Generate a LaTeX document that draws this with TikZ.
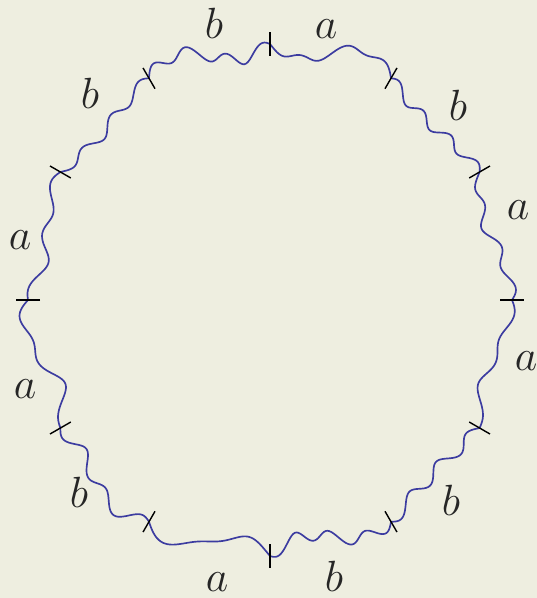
\documentclass[tikz,border=0pt]{standalone}
\usetikzlibrary{positioning}
\definecolor{paper}{RGB}{238,238,224}
\definecolor{wire}{RGB}{60,60,160}
\definecolor{ink}{RGB}{38,38,38}
\tikzset{
  wavy/.style={draw=wire,line width=0.95pt,line join=round},
  tickmark/.style={draw=black,line width=0.8pt},
  letter/.style={anchor=base,text=ink,inner sep=0pt,font=\fontsize{25}{30}\selectfont},
}

\begin{document}
\begin{tikzpicture}[x=0.02cm,y=-0.02cm]
  \fill[paper] (0,0) rectangle (537,598);
  \useasboundingbox (0,0) rectangle (537,598);
  % the wavy loop, one piece between two ticks
  \foreach \ta/\A/\B/\W/\N in {0/-13/5/5/6, 30/-11/2/5/7, 60/0/13/4/6, 90/-3/-11/6/7,
      120/-12/2/5/6, 150/-11/4/5/5, 180/-9/11/5/5, 210/3/-7/6/6,
      240/-6/13/4/4, 270/-11/-9/6/7, 300/-11/0/6/6, 330/-13/-5/4/5}
    \draw[wavy] plot[smooth,domain=0:1,samples=70,variable=\t]
      ({270+(242+(\A)*sin(180*\t)+(\B)*sin(360*\t)+(\W)*sin(\N*180*\t))*cos(\ta+30*\t)},
       {300-(256+(\A)*sin(180*\t)+(\B)*sin(360*\t)+(\W)*sin(\N*180*\t))*sin(\ta+30*\t)});
  % ticks
  \foreach \a in {0,30,...,330}
    \draw[tickmark] ({270+230*cos(\a)},{300-244*sin(\a)}) -- ({270+254*cos(\a)},{300-268*sin(\a)});
  % labels
  \node[letter] (l75) at (326,39) {$a$};
  \node[letter] (l45) at (458,120) {$b$};
  \node[letter] (l15) at (518,219) {$a$};
  \node[letter] (lm15) at (526,370) {$a$};
  \node[letter] (lm45) at (451,515) {$b$};
  \node[letter] (lm75) at (334,591) {$b$};
  \node[letter] (lm105) at (217,591) {$a$};
  \node[letter] (lm135) at (79,507) {$b$};
  \node[letter] (lm165) at (25,398) {$a$};
  \node[letter] (l165) at (20,249) {$a$};
  \node[letter] (l135) at (90,109) {$b$};
  \node[letter] (l105) at (214,39) {$b$};
\end{tikzpicture}
\end{document}
